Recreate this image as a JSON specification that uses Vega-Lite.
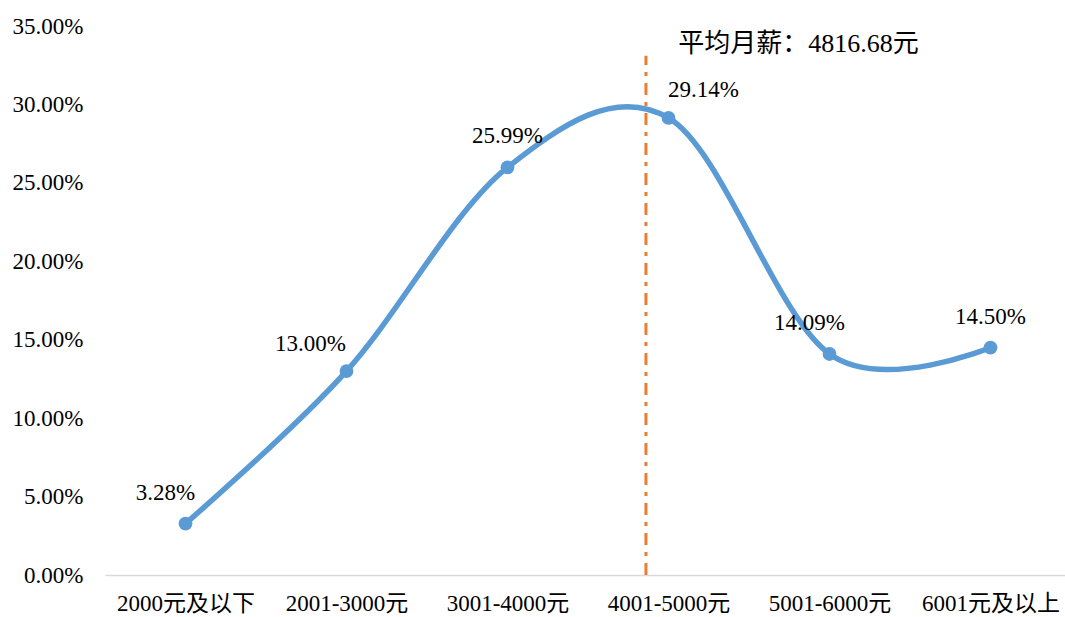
{
  "$schema": "https://vega.github.io/schema/vega-lite/v6.json",
  "width": 966,
  "height": 549,
  "autosize": {"type": "none"},
  "padding": {"left": 105, "top": 26, "right": 0, "bottom": 42},
  "background": "white",
  "config": {
    "view": {"stroke": null},
    "font": "Liberation Serif, Noto Sans CJK SC",
    "axis": {"labelFont": "Liberation Serif, Noto Sans CJK SC", "labelColor": "#000000", "labelFontSize": 23}
  },
  "datasets": {
    "salary": [
      {"idx": 1, "cat": "2000元及以下", "pct": 0.0328, "grp": "A"},
      {"idx": 2, "cat": "2001-3000元", "pct": 0.1300, "grp": "B"},
      {"idx": 3, "cat": "3001-4000元", "pct": 0.2599, "grp": "C"},
      {"idx": 4, "cat": "4001-5000元", "pct": 0.2914, "grp": "D"},
      {"idx": 5, "cat": "5001-6000元", "pct": 0.1409, "grp": "A"},
      {"idx": 6, "cat": "6001元及以上", "pct": 0.1450, "grp": "C"}
    ],
    "mean": [
      {"idx": 3.86, "y0": 0, "y1": 0.331, "label": "平均月薪：4816.68元", "ty": 0.3384, "tx": 4.06}
    ]
  },
  "layer": [
    {
      "data": {"name": "mean"},
      "mark": {"type": "rule", "color": "#ED7D31", "strokeWidth": 3, "strokeDash": [12, 7, 4, 7]},
      "encoding": {
        "x": {"field": "idx", "type": "quantitative", "scale": {"domain": [0.5, 6.5]},
          "axis": {"values": [1, 2, 3, 4, 5, 6], "grid": false, "ticks": false, "domainColor": "#D9D9D9", "domainWidth": 1.5, "labelPadding": 17, "title": null,
            "labelExpr": "['','2000元及以下','2001-3000元','3001-4000元','4001-5000元','5001-6000元','6001元及以上'][datum.value]"}},
        "y": {"field": "y0", "type": "quantitative", "scale": {"domain": [0, 0.35]},
          "axis": {"values": [0, 0.05, 0.1, 0.15, 0.2, 0.25, 0.3, 0.35], "format": ".2%", "grid": false, "ticks": false, "domain": false, "labelPadding": 22, "title": null}},
        "y2": {"field": "y1"}
      }
    },
    {
      "data": {"name": "mean"},
      "mark": {"type": "text", "align": "left", "baseline": "middle", "fontSize": 26, "color": "#000000"},
      "encoding": {
        "x": {"field": "tx", "type": "quantitative"},
        "y": {"field": "ty", "type": "quantitative"},
        "text": {"field": "label"}
      }
    },
    {
      "data": {"name": "salary"},
      "mark": {"type": "line", "interpolate": "cardinal", "tension": 0, "color": "#5B9BD5", "strokeWidth": 5.5},
      "encoding": {
        "x": {"field": "idx", "type": "quantitative"},
        "y": {"field": "pct", "type": "quantitative"}
      }
    },
    {
      "data": {"name": "salary"},
      "mark": {"type": "point", "filled": true, "opacity": 1, "color": "#5B9BD5", "size": 190},
      "encoding": {
        "x": {"field": "idx", "type": "quantitative"},
        "y": {"field": "pct", "type": "quantitative"}
      }
    },
    {
      "data": {"name": "salary"},
      "transform": [{"filter": "datum.grp == 'A'"}],
      "mark": {"type": "text", "fontSize": 23, "dx": -20, "dy": -31, "baseline": "middle", "color": "#000000"},
      "encoding": {
        "x": {"field": "idx", "type": "quantitative"},
        "y": {"field": "pct", "type": "quantitative"},
        "text": {"field": "pct", "type": "quantitative", "format": ".2%"}
      }
    },
    {
      "data": {"name": "salary"},
      "transform": [{"filter": "datum.grp == 'B'"}],
      "mark": {"type": "text", "fontSize": 23, "dx": -36, "dy": -27, "baseline": "middle", "color": "#000000"},
      "encoding": {
        "x": {"field": "idx", "type": "quantitative"},
        "y": {"field": "pct", "type": "quantitative"},
        "text": {"field": "pct", "type": "quantitative", "format": ".2%"}
      }
    },
    {
      "data": {"name": "salary"},
      "transform": [{"filter": "datum.grp == 'C'"}],
      "mark": {"type": "text", "fontSize": 23, "dx": 0, "dy": -31, "baseline": "middle", "color": "#000000"},
      "encoding": {
        "x": {"field": "idx", "type": "quantitative"},
        "y": {"field": "pct", "type": "quantitative"},
        "text": {"field": "pct", "type": "quantitative", "format": ".2%"}
      }
    },
    {
      "data": {"name": "salary"},
      "transform": [{"filter": "datum.grp == 'D'"}],
      "mark": {"type": "text", "fontSize": 23, "dx": 35, "dy": -28, "baseline": "middle", "color": "#000000"},
      "encoding": {
        "x": {"field": "idx", "type": "quantitative"},
        "y": {"field": "pct", "type": "quantitative"},
        "text": {"field": "pct", "type": "quantitative", "format": ".2%"}
      }
    }
  ]
}
